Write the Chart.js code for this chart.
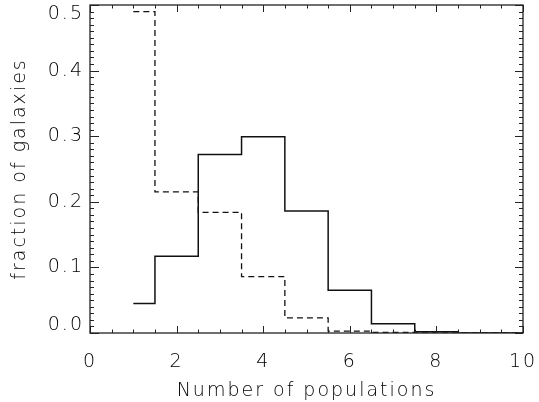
<!DOCTYPE html>
<html>
<head>
<meta charset="utf-8">
<script src="https://cdn.jsdelivr.net/npm/chart.js@4.4.1/dist/chart.umd.min.js"></script>
<style>
  html, body { margin: 0; padding: 0; background: #fff; }
  #wrap { width: 539px; height: 402px; position: relative; }
</style>
</head>
<body>
<div id="wrap"><canvas id="chart"></canvas></div>
<script>
  // ======= Data =======
  const nPops = [1, 2, 3, 4, 5, 6, 7, 8, 9, 10];
  const fracSolid  = [0.045, 0.117, 0.272, 0.299, 0.186, 0.065, 0.014, 0.002, 0.0, 0.0];
  const fracDashed = [0.490, 0.215, 0.184, 0.086, 0.023, 0.003, 0.001, 0.0, 0.0, 0.0];
  const xTickLabels = [0, 2, 4, 6, 8, 10];
  const yTickLabels = ["0.0", "0.1", "0.2", "0.3", "0.4", "0.5"];
  const X_MINOR = 0.5;   // minor tick step on x
  const Y_MINOR = 0.01;  // minor tick step on y

  const FONT = "'DejaVu Sans', sans-serif";
  const FONT_WEIGHT = 200;
  const INK = "#222";
  const TEXT = "#000";
  const SPACING = "2px";   // the reference font is wide, spread letters a bit

  const toPts = ys => nPops.map((x, i) => ({ x, y: ys[i] }));

  // letter spacing has to be on the context before measuring and drawing
  const spacingPlugin = {
    id: "spacing",
    beforeLayout(chart) { chart.ctx.letterSpacing = SPACING; },
    beforeDraw(chart) { chart.ctx.letterSpacing = SPACING; }
  };

  // IDL-style frame: box on all four sides, inward ticks, clamped y labels
  const framePlugin = {
    id: "frame",
    afterDatasetsDraw(chart) {
      const { ctx, chartArea: a, scales: { x, y } } = chart;
      ctx.save();
      ctx.strokeStyle = INK;
      ctx.lineWidth = 1.3;
      ctx.strokeRect(a.left, a.top, a.right - a.left, a.bottom - a.top);

      ctx.lineWidth = 1;
      ctx.beginPath();
      const xMax = x.max + 1e-9;
      for (let v = x.min; v <= xMax; v += X_MINOR) {
        const px = Math.round(x.getPixelForValue(v)) + 0.5;
        const major = xTickLabels.some(t => Math.abs(t - v) < 1e-6);
        const len = major ? 7 : 3.5;
        ctx.moveTo(px, a.bottom); ctx.lineTo(px, a.bottom - len);
        ctx.moveTo(px, a.top);    ctx.lineTo(px, a.top + len);
      }
      const yMax = y.max + 1e-9;
      for (let v = y.min; v <= yMax; v += Y_MINOR) {
        const py = Math.round(y.getPixelForValue(v)) + 0.5;
        const major = yTickLabels.some(t => Math.abs(Number(t) - v) < 1e-6);
        ctx.moveTo(a.left, py);  ctx.lineTo(a.left + (major ? 9 : 4), py);
        ctx.moveTo(a.right, py); ctx.lineTo(a.right - (major ? 8 : 4), py);
      }
      ctx.stroke();

      // y tick labels, kept inside the frame height like IDL does
      ctx.fillStyle = TEXT;
      ctx.font = FONT_WEIGHT + " 19px " + FONT;
      ctx.textAlign = "right";
      ctx.textBaseline = "middle";
      yTickLabels.forEach(t => {
        let py = y.getPixelForValue(Number(t));
        py = Math.min(Math.max(py, a.top + 9), a.bottom - 8);
        ctx.fillText(t, a.left - 6, py);
      });
      ctx.restore();
    }
  };

  new Chart(document.getElementById("chart"), {
    type: "line",
    data: {
      datasets: [
        {
          label: "solid",
          data: toPts(fracSolid),
          stepped: "middle",
          borderColor: "#111",
          borderWidth: 1.5,
          pointRadius: 0,
          fill: false
        },
        {
          label: "dashed",
          data: toPts(fracDashed),
          stepped: "middle",
          borderColor: "#111",
          borderWidth: 1.3,
          borderDash: [6, 4],
          pointRadius: 0,
          fill: false
        }
      ]
    },
    options: {
      responsive: true,
      maintainAspectRatio: false,
      animation: false,
      layout: { padding: { top: 5, right: 16, left: 0, bottom: 0 } },
      plugins: { legend: { display: false }, tooltip: { enabled: false } },
      scales: {
        x: {
          type: "linear",
          min: 0, max: 10,
          grid: { display: false, drawTicks: false },
          border: { display: false },
          afterBuildTicks: s => { s.ticks = xTickLabels.map(v => ({ value: v })); },
          ticks: {
            color: TEXT, padding: 18, maxRotation: 0, autoSkip: false,
            font: { family: FONT, size: 19, weight: FONT_WEIGHT }
          },
          title: {
            display: true, text: "Number of populations", color: TEXT,
            font: { family: FONT, size: 19, weight: FONT_WEIGHT }, padding: { top: 0, bottom: 0 }
          },
          afterFit: s => { s.height = 69; s.paddingLeft = 0; s.paddingRight = 0; }
        },
        y: {
          type: "linear",
          min: 0, max: 0.5,
          grid: { display: false, drawTicks: false },
          border: { display: false },
          ticks: { display: false },
          title: {
            display: true, text: "fraction of galaxies", color: TEXT,
            font: { family: FONT, size: 19, weight: FONT_WEIGHT }, padding: { top: 9, bottom: 0 }
          },
          afterFit: s => { s.width = 90; s.paddingTop = 0; s.paddingBottom = 0; }
        }
      }
    },
    plugins: [spacingPlugin, framePlugin]
  });
</script>
</body>
</html>
